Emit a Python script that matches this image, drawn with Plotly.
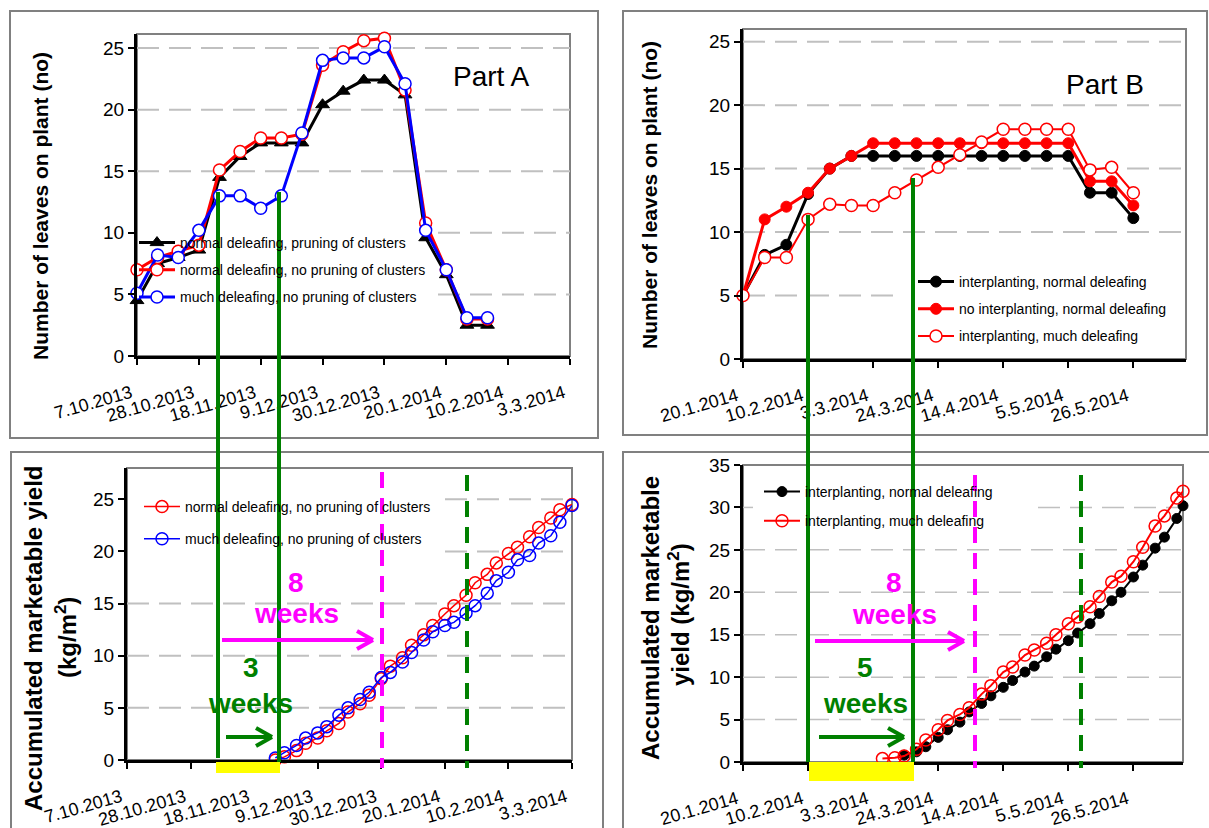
import plotly.graph_objects as go

W, H = 1209, 828
FONT = "Liberation Sans, Arial, sans-serif"

def fx(p):
    return p / W

def fy(p):
    return 1 - p / H

# ---------------- data ----------------
# Part A, number of leaves (weekly)
dates_a_leaves = ["2013-10-07", "2013-10-14", "2013-10-21", "2013-10-28", "2013-11-04", "2013-11-11",
                  "2013-11-18", "2013-11-25", "2013-12-02", "2013-12-09", "2013-12-16", "2013-12-23",
                  "2013-12-30", "2014-01-06", "2014-01-13", "2014-01-20", "2014-01-27", "2014-02-03"]
a_normal_pruning = [4.5, 7.5, 8.0, 8.6, 14.5, 16.2, 17.3, 17.3, 17.3, 20.4, 21.5, 22.4, 22.4, 21.2, 9.6, 6.6, 2.5, 2.5]
a_normal_nopruning = [7.0, 8.0, 8.5, 9.0, 15.1, 16.6, 17.7, 17.7, 18.0, 23.6, 24.7, 25.6, 25.8, 21.6, 10.8, 7.0, 3.0, 3.0]
a_much_nopruning = [5.1, 8.2, 8.0, 10.2, 13.0, 13.0, 12.0, 13.0, 18.1, 24.0, 24.2, 24.2, 25.1, 22.1, 10.2, 7.0, 3.1, 3.1]

# Part A, accumulated yield (twice weekly)
dates_a_yield = ["2013-11-25", "2013-11-28", "2013-12-02", "2013-12-05", "2013-12-09", "2013-12-12",
                 "2013-12-16", "2013-12-19", "2013-12-23", "2013-12-26", "2013-12-30", "2014-01-02",
                 "2014-01-06", "2014-01-09", "2014-01-13", "2014-01-16", "2014-01-20", "2014-01-23",
                 "2014-01-27", "2014-01-30", "2014-02-03", "2014-02-06", "2014-02-10", "2014-02-13",
                 "2014-02-17", "2014-02-20", "2014-02-24", "2014-02-27", "2014-03-03"]
y_a_normal = [0.0, 0.3, 0.9, 1.6, 2.1, 2.8, 3.5, 4.6, 5.4, 6.2, 7.8, 9.0, 9.8, 11.0, 12.0, 12.9, 14.0, 14.8,
              15.8, 17.0, 17.8, 18.9, 19.8, 20.4, 21.4, 22.3, 23.2, 24.0, 24.5]
y_a_much = [0.2, 0.7, 1.4, 2.1, 2.6, 3.2, 4.3, 5.0, 5.8, 6.5, 7.9, 8.4, 9.4, 10.3, 11.5, 12.3, 12.9, 13.2,
            14.1, 14.8, 16.0, 17.2, 18.0, 19.2, 19.6, 20.8, 21.5, 22.8, 24.4]

# Part B, number of leaves (weekly)
dates_b_leaves = ["2014-01-20", "2014-01-27", "2014-02-03", "2014-02-10", "2014-02-17", "2014-02-24",
                  "2014-03-03", "2014-03-10", "2014-03-17", "2014-03-24", "2014-03-31", "2014-04-07",
                  "2014-04-14", "2014-04-21", "2014-04-28", "2014-05-05", "2014-05-12", "2014-05-19",
                  "2014-05-26"]
b_inter_normal = [5.0, 8.2, 9.0, 13.0, 15.0, 16.0, 16.0, 16.0, 16.0, 16.0, 16.0, 16.0, 16.0, 16.0, 16.0, 16.0,
                  13.1, 13.1, 11.1]
b_nointer_normal = [5.0, 11.0, 12.0, 13.1, 15.0, 16.0, 17.0, 17.0, 17.0, 17.0, 17.0, 17.0, 17.0, 17.0, 17.0,
                    17.0, 14.0, 14.0, 12.1]
b_inter_much = [5.0, 8.0, 8.0, 11.0, 12.2, 12.1, 12.1, 13.1, 14.1, 15.1, 16.1, 17.1, 18.1, 18.1, 18.1, 18.1,
                14.9, 15.1, 13.1]

# Part B, accumulated yield (twice weekly)
dates_b_yield_normal = ["2014-03-13", "2014-03-17", "2014-03-20", "2014-03-24", "2014-03-27", "2014-03-31",
                        "2014-04-03", "2014-04-07", "2014-04-10", "2014-04-14", "2014-04-17", "2014-04-21",
                        "2014-04-24", "2014-04-28", "2014-05-01", "2014-05-05", "2014-05-08", "2014-05-12",
                        "2014-05-15", "2014-05-19", "2014-05-22", "2014-05-26", "2014-05-29", "2014-06-02",
                        "2014-06-05", "2014-06-09", "2014-06-11", "2014-06-12"]
y_b_normal = [0.8, 1.2, 1.8, 2.9, 3.8, 4.7, 5.9, 6.9, 7.8, 8.8, 9.6, 10.6, 11.3, 12.4, 13.3, 14.3, 15.2, 16.3,
              17.5, 19.0, 20.0, 21.8, 23.2, 25.2, 26.5, 28.7, 30.2, 36.0]
dates_b_yield_much = ["2014-03-06", "2014-03-10", "2014-03-13", "2014-03-17", "2014-03-20", "2014-03-24",
                      "2014-03-27", "2014-03-31", "2014-04-03", "2014-04-07", "2014-04-10", "2014-04-14",
                      "2014-04-17", "2014-04-21", "2014-04-24", "2014-04-28", "2014-05-01", "2014-05-05",
                      "2014-05-08", "2014-05-12", "2014-05-15", "2014-05-19", "2014-05-22", "2014-05-26",
                      "2014-05-29", "2014-06-02", "2014-06-05", "2014-06-09", "2014-06-11", "2014-06-12"]
y_b_much = [0.4, 0.5, 0.7, 1.5, 2.6, 3.8, 4.9, 5.6, 6.4, 8.0, 9.0, 10.6, 11.2, 12.6, 13.2, 14.0, 15.0, 16.3,
            17.1, 18.3, 19.5, 21.2, 21.9, 23.6, 25.3, 27.8, 29.0, 31.1, 31.9, 36.0]

# tick labels
ticks_a = ["2013-10-07", "2013-10-28", "2013-11-18", "2013-12-09", "2013-12-30", "2014-01-20", "2014-02-10",
           "2014-03-03"]
ticktext_a = ["7.10.2013", "28.10.2013", "18.11.2013", "9.12.2013", "30.12.2013", "20.1.2014", "10.2.2014",
              "3.3.2014"]
ticks_b = ["2014-01-20", "2014-02-10", "2014-03-03", "2014-03-24", "2014-04-14", "2014-05-05", "2014-05-26"]
ticktext_b = ["20.1.2014", "10.2.2014", "3.3.2014", "24.3.2014", "14.4.2014", "5.5.2014", "26.5.2014"]
yticks_leaves = [0, 5, 10, 15, 20, 25]
yticks_yield_a = [0, 5, 10, 15, 20, 25]
yticks_yield_b = [0, 5, 10, 15, 20, 25, 30, 35]

# ---------------- layout geometry (pixels) ----------------
PLOTS = {  # L, R, T, B
    "1": (137, 570, 34, 356),
    "2": (743, 1186, 29, 359),
    "3": (127, 572, 468, 760),
    "4": (743, 1183, 465, 762),
}

fig = go.Figure()


def sfx(k):
    return "" if k == "1" else k


def add(x, y, ax, name, legend, color, symbol, msize, mfill, lw, mlw=1.5):
    fig.add_trace(go.Scatter(
        x=x, y=y, xaxis="x" + sfx(ax), yaxis="y" + sfx(ax),
        name=name, legend=legend, legendgroup=name + legend, mode="lines+markers",
        line=dict(color=color, width=lw),
        marker=dict(symbol=symbol, size=msize, color=mfill, line=dict(color=color, width=mlw)),
        cliponaxis=False, hoverinfo="skip"))


RED, BLUE, BLACK = "#ff0000", "#0000ff", "#000000"

add(dates_a_leaves, a_normal_pruning, "1", "normal deleafing, pruning of clusters", "legend", BLACK,
    "triangle-up", 12, BLACK, 3, 1)
add(dates_a_leaves, a_normal_nopruning, "1", "normal deleafing, no pruning of clusters", "legend", RED,
    "circle", 12, "white", 3)
add(dates_a_leaves, a_much_nopruning, "1", "much deleafing, no pruning of clusters", "legend", BLUE,
    "circle", 12, "white", 3)

add(dates_b_leaves, b_inter_normal, "2", "interplanting, normal deleafing", "legend2", BLACK,
    "circle", 11, BLACK, 3, 1)
add(dates_b_leaves, b_nointer_normal, "2", "no interplanting, normal deleafing", "legend2", RED,
    "circle", 11, RED, 3, 1)
add(dates_b_leaves, b_inter_much, "2", "interplanting, much deleafing", "legend2", RED,
    "circle", 12, "white", 2)

add(dates_a_yield, y_a_normal, "3", "normal deleafing, no pruning of clusters", "legend3", RED,
    "circle-open", 12, RED, 1.5)
add(dates_a_yield, y_a_much, "3", "much deleafing, no pruning of clusters", "legend3", BLUE,
    "circle-open", 12, BLUE, 1.5)

add(dates_b_yield_normal, y_b_normal, "4", "interplanting, normal deleafing", "legend4", BLACK,
    "circle", 10, BLACK, 2, 1)
add(dates_b_yield_much, y_b_much, "4", "interplanting, much deleafing", "legend4", RED,
    "circle-open", 12, RED, 2)


def xdom(k):
    L, R, T, B = PLOTS[k]
    return [fx(L), fx(R)]


def ydom(k):
    L, R, T, B = PLOTS[k]
    return [fy(B), fy(T)]


def xaxis(k, rng, tv, tt):
    return dict(domain=xdom(k), range=rng, type="date", anchor="y" + sfx(k), automargin=False,
                tickmode="array", tickvals=tv, ticktext=tt, tickangle=-16,
                tickfont=dict(size=18, family=FONT, color="black"),
                showline=True, linecolor="black", linewidth=3, ticks="outside", ticklen=6, tickwidth=2,
                tickcolor="black", showgrid=False, zeroline=False, ticklabelstandoff=11, ticklabelshift=-6,
                fixedrange=True)


def yaxis(k, rng, tv):
    return dict(domain=ydom(k), range=rng, anchor="x" + sfx(k), automargin=False, tickmode="array", tickvals=tv,
                tickfont=dict(size=19, family=FONT, color="black"),
                showline=True, linecolor="black", linewidth=3, ticks="outside", ticklen=6, tickwidth=2,
                tickcolor="black", showgrid=False, zeroline=False, fixedrange=True)


shapes = []
# outer panel frames
for (x0, y0, x1, y1) in [(10, 11, 598, 438), (623, 11, 1207, 435), (11, 452, 603, 840), (623, 452, 1215, 840)]:
    shapes.append(dict(type="rect", xref="paper", yref="paper", x0=fx(x0), x1=fx(x1), y0=fy(y1), y1=fy(y0),
                       line=dict(color="#808080", width=2), layer="below"))

# plot-area borders
for k in PLOTS:
    s = sfx(k)
    shapes.append(dict(type="rect", xref="x" + s + " domain", yref="y" + s + " domain", x0=0, x1=1, y0=0, y1=1,
                       line=dict(color="#808080", width=2), layer="below"))


# dashed horizontal gridlines, interrupted where the legend box sits
def grid(k, values, gw, covered):
    L, R, T, B = PLOTS[k]
    s = sfx(k)
    for v in values:
        if v == 0:
            continue
        segs = [(0.0, 1.0)]
        for (cv, x0, x1) in covered:
            if cv == v:
                segs = [(0.0, (x0 - L) / (R - L)), ((x1 - L) / (R - L), 1.0)]
        for a, b in segs:
            if b - a <= 0.001:
                continue
            shapes.append(dict(type="line", xref="x" + s + " domain", yref="y" + s, x0=a, x1=b, y0=v, y1=v,
                               line=dict(color="#c0c0c0", width=gw, dash="22px,10px"), layer="below"))


grid("1", yticks_leaves, 2, [(10, 137, 438), (5, 137, 438)])
grid("2", yticks_leaves, 2, [(5, 902, 1186)])
grid("3", yticks_yield_a, 2, [(25, 127, 445), (20, 127, 445)])
grid("4", yticks_yield_b[:-1], 1.5, [(30, 753, 1038)])

GREEN, MAG, YEL = "#008000", "#ff00ff", "#ffff00"


def vline(x, y0, y1, color, width=4, dash=None):
    ln = dict(color=color, width=width)
    if dash:
        ln["dash"] = dash
    shapes.append(dict(type="line", xref="paper", yref="paper", x0=fx(x), x1=fx(x), y0=fy(y0), y1=fy(y1),
                       line=ln, layer="above"))


def arrow(x0, x1, y, color):
    for (ax0, ay0, ax1, ay1) in [(x0, y, x1, y), (x1 - 16, y - 9, x1, y), (x1 - 16, y + 9, x1, y)]:
        shapes.append(dict(type="line", xref="paper", yref="paper", x0=fx(ax0), y0=fy(ay0), x1=fx(ax1),
                           y1=fy(ay1), line=dict(color=color, width=4), layer="above"))


def yellow(x0, x1, y0, y1):
    shapes.append(dict(type="rect", xref="paper", yref="paper", x0=fx(x0), x1=fx(x1), y0=fy(y1), y1=fy(y0),
                       fillcolor=YEL, line=dict(width=0), layer="above"))


yellow(216, 280, 762, 773)
yellow(809, 914, 762, 781)
vline(218, 192, 758, GREEN)
vline(279, 192, 762, GREEN)
vline(808, 215, 762, GREEN)
vline(913, 178, 762, GREEN)
vline(382, 472, 768, MAG, 4, "16px,10px")
vline(467, 475, 768, GREEN, 4, "16px,10px")
vline(975, 475, 768, MAG, 4, "16px,10px")
vline(1081, 475, 768, GREEN, 4, "16px,10px")
arrow(222, 373, 640, MAG)
arrow(226, 272, 737, GREEN)
arrow(815, 964, 641, MAG)
arrow(819, 904, 737, GREEN)

annotations = []


def text(x, y, t, size, color="black", angle=0, bold=False):
    annotations.append(dict(x=fx(x), y=fy(y), xref="paper", yref="paper", text=("<b>%s</b>" % t) if bold else t,
                            showarrow=False, xanchor="center", yanchor="middle", textangle=angle,
                            font=dict(size=size, color=color, family=FONT)))


text(491, 77, "Part A", 28)
text(1105, 84, "Part B", 28)
text(40, 206, "Number of leaves on plant (no)", 21, angle=-90, bold=True)
text(650, 195, "Number of leaves on plant (no)", 21, angle=-90, bold=True)
text(33, 639, "Accumulated marketable yield", 24, angle=-90, bold=True)
text(66, 638, "(kg/m<sup>2</sup>)", 24, angle=-90, bold=True)
text(650, 618, "Accumulated marketable", 24, angle=-90, bold=True)
text(679, 615, "yield (kg/m<sup>2</sup>)", 24, angle=-90, bold=True)
text(296, 582, "8", 28, MAG, bold=True)
text(296, 613, "weeks", 28, MAG, bold=True)
text(894, 582, "8", 28, MAG, bold=True)
text(894, 614, "weeks", 28, MAG, bold=True)
text(251, 667, "3", 28, GREEN, bold=True)
text(250, 703, "weeks", 28, GREEN, bold=True)
text(865, 667, "5", 28, GREEN, bold=True)
text(865, 703, "weeks", 28, GREEN, bold=True)


def legend(x, y, gap):
    return dict(x=fx(x), y=fy(y), xanchor="left", yanchor="top", bgcolor="rgba(0,0,0,0)", borderwidth=0,
                font=dict(size=14, family=FONT, color="black"), tracegroupgap=gap, itemwidth=36,
                traceorder="grouped")


fig.update_layout(
    width=W, height=H, autosize=False, margin=dict(l=0, r=0, t=0, b=0, pad=0, autoexpand=False),
    paper_bgcolor="white", plot_bgcolor="white", showlegend=True,
    xaxis=xaxis("1", ["2013-10-07", "2014-03-03"], ticks_a, ticktext_a),
    yaxis=yaxis("1", [0, 26.14], yticks_leaves),
    xaxis2=xaxis("2", ["2014-01-20", "2014-06-12"], ticks_b, ticktext_b),
    yaxis2=yaxis("2", [0, 26.0], yticks_leaves),
    xaxis3=xaxis("3", ["2013-10-07", "2014-03-03"], ticks_a, ticktext_a),
    yaxis3=yaxis("3", [0, 28], yticks_yield_a),
    xaxis4=xaxis("4", ["2014-01-20", "2014-06-11"], ticks_b, ticktext_b),
    yaxis4=yaxis("4", [0, 35], yticks_yield_b),
    legend=legend(134, 227, 6),
    legend2=legend(913, 266, 6),
    legend3=legend(139, 491, 11),
    legend4=legend(759, 476, 8),
    shapes=shapes, annotations=annotations,
)

fig.write_html("out.html")
